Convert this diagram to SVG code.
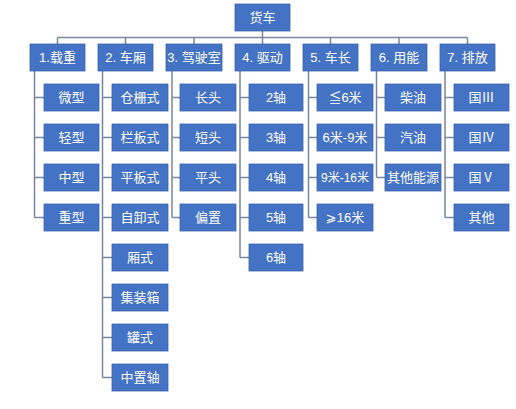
<svg xmlns="http://www.w3.org/2000/svg" width="516" height="409" viewBox="0 0 516 409">
<style>
.b{fill:#4472C4;stroke:#3a64ad;stroke-width:0.8}
.t{fill:#ffffff;font-family:"Liberation Sans","Noto Sans CJK SC","DejaVu Sans",sans-serif;font-size:13px;text-anchor:middle}
.c{fill:none;stroke:#7a849c;stroke-width:1.5}
</style>
<rect width="516" height="409" fill="#ffffff"/>
<g id="connectors" class="c">
<path d="M262.5 31V37.5M57.5 37.5H467.5M57.5 37.5V44M125.5 37.5V44M194 37.5V44M262.5 37.5V44M330.5 37.5V44M399 37.5V44M467.5 37.5V44"/>
<path d="M34.5 71V217.5M34.5 97.5H44M34.5 137.5H44M34.5 177.5H44M34.5 217.5H44"/>
<path d="M102.5 71V377.5M102.5 97.5H112M102.5 137.5H112M102.5 177.5H112M102.5 217.5H112M102.5 257.5H112M102.5 297.5H112M102.5 337.5H112M102.5 377.5H112"/>
<path d="M172 71V217.5M172 97.5H180M172 137.5H180M172 177.5H180M172 217.5H180"/>
<path d="M240 71V257.5M240 97.5H249M240 137.5H249M240 177.5H249M240 217.5H249M240 257.5H249"/>
<path d="M308.5 71V217.5M308.5 97.5H317M308.5 137.5H317M308.5 177.5H317M308.5 217.5H317"/>
<path d="M376.5 71V177.5M376.5 97.5H385M376.5 137.5H385M376.5 177.5H385"/>
<path d="M445 71V217.5M445 97.5H454M445 137.5H454M445 177.5H454M445 217.5H454"/>
</g>
<g id="root"><rect class="b" x="235" y="4" width="55" height="27"/><text class="t" x="262.5" y="22">货车</text></g>
<g id="cat1"><rect class="b" x="30" y="44" width="55" height="27"/><text class="t" x="57.5" y="62">1.载重</text></g>
<g id="cat2"><rect class="b" x="98" y="44" width="55" height="27"/><text class="t" x="125.5" y="62">2. 车厢</text></g>
<g id="cat3"><rect class="b" x="166" y="44" width="56" height="27"/><text class="t" x="194" y="62">3. 驾驶室</text></g>
<g id="cat4"><rect class="b" x="235" y="44" width="55" height="27"/><text class="t" x="262.5" y="62">4. 驱动</text></g>
<g id="cat5"><rect class="b" x="303" y="44" width="55" height="27"/><text class="t" x="330.5" y="62">5. 车长</text></g>
<g id="cat6"><rect class="b" x="371" y="44" width="56" height="27"/><text class="t" x="399" y="62">6.  用能</text></g>
<g id="cat7"><rect class="b" x="440" y="44" width="55" height="27"/><text class="t" x="467.5" y="62">7. 排放</text></g>

<g id="n1-1"><rect class="b" x="44" y="84" width="55" height="27"/><text class="t" x="71.5" y="102">微型</text></g>
<g id="n1-2"><rect class="b" x="44" y="124" width="55" height="27"/><text class="t" x="71.5" y="142">轻型</text></g>
<g id="n1-3"><rect class="b" x="44" y="164" width="55" height="27"/><text class="t" x="71.5" y="182">中型</text></g>
<g id="n1-4"><rect class="b" x="44" y="204" width="55" height="27"/><text class="t" x="71.5" y="222">重型</text></g>

<g id="n2-1"><rect class="b" x="112" y="84" width="56" height="27"/><text class="t" x="140" y="102">仓栅式</text></g>
<g id="n2-2"><rect class="b" x="112" y="124" width="56" height="27"/><text class="t" x="140" y="142">栏板式</text></g>
<g id="n2-3"><rect class="b" x="112" y="164" width="56" height="27"/><text class="t" x="140" y="182">平板式</text></g>
<g id="n2-4"><rect class="b" x="112" y="204" width="56" height="27"/><text class="t" x="140" y="222">自卸式</text></g>
<g id="n2-5"><rect class="b" x="112" y="244" width="56" height="27"/><text class="t" x="140" y="262">厢式</text></g>
<g id="n2-6"><rect class="b" x="112" y="284" width="56" height="27"/><text class="t" x="140" y="302">集装箱</text></g>
<g id="n2-7"><rect class="b" x="112" y="324" width="56" height="27"/><text class="t" x="140" y="342">罐式</text></g>
<g id="n2-8"><rect class="b" x="112" y="364" width="56" height="27"/><text class="t" x="140" y="382">中置轴</text></g>

<g id="n3-1"><rect class="b" x="180" y="84" width="56" height="27"/><text class="t" x="208" y="102">长头</text></g>
<g id="n3-2"><rect class="b" x="180" y="124" width="56" height="27"/><text class="t" x="208" y="142">短头</text></g>
<g id="n3-3"><rect class="b" x="180" y="164" width="56" height="27"/><text class="t" x="208" y="182">平头</text></g>
<g id="n3-4"><rect class="b" x="180" y="204" width="56" height="27"/><text class="t" x="208" y="222">偏置</text></g>

<g id="n4-1"><rect class="b" x="249" y="84" width="54" height="27"/><text class="t" x="276" y="102">2轴</text></g>
<g id="n4-2"><rect class="b" x="249" y="124" width="54" height="27"/><text class="t" x="276" y="142">3轴</text></g>
<g id="n4-3"><rect class="b" x="249" y="164" width="54" height="27"/><text class="t" x="276" y="182">4轴</text></g>
<g id="n4-4"><rect class="b" x="249" y="204" width="54" height="27"/><text class="t" x="276" y="222">5轴</text></g>
<g id="n4-5"><rect class="b" x="249" y="244" width="54" height="27"/><text class="t" x="276" y="262">6轴</text></g>

<g id="n5-1"><rect class="b" x="317" y="84" width="56" height="27"/><text class="t" x="345" y="102">≦6米</text></g>
<g id="n5-2"><rect class="b" x="317" y="124" width="56" height="27"/><text class="t" x="345" y="142">6米-9米</text></g>
<g id="n5-3"><rect class="b" x="317" y="164" width="56" height="27"/><text class="t" x="345" y="182" style="font-size:12px">9米-16米</text></g>
<g id="n5-4"><rect class="b" x="317" y="204" width="56" height="27"/><text class="t" x="345" y="222">⩾16米</text></g>

<g id="n6-1"><rect class="b" x="385" y="84" width="56" height="27"/><text class="t" x="413" y="102">柴油</text></g>
<g id="n6-2"><rect class="b" x="385" y="124" width="56" height="27"/><text class="t" x="413" y="142">汽油</text></g>
<g id="n6-3"><rect class="b" x="385" y="164" width="56" height="27"/><text class="t" x="413" y="182">其他能源</text></g>

<g id="n7-1"><rect class="b" x="454" y="84" width="55" height="27"/><text class="t" x="481.5" y="102">国Ⅲ</text></g>
<g id="n7-2"><rect class="b" x="454" y="124" width="55" height="27"/><text class="t" x="481.5" y="142">国Ⅳ</text></g>
<g id="n7-3"><rect class="b" x="454" y="164" width="55" height="27"/><text class="t" x="481.5" y="182">国Ⅴ</text></g>
<g id="n7-4"><rect class="b" x="454" y="204" width="55" height="27"/><text class="t" x="481.5" y="222">其他</text></g>
</svg>
